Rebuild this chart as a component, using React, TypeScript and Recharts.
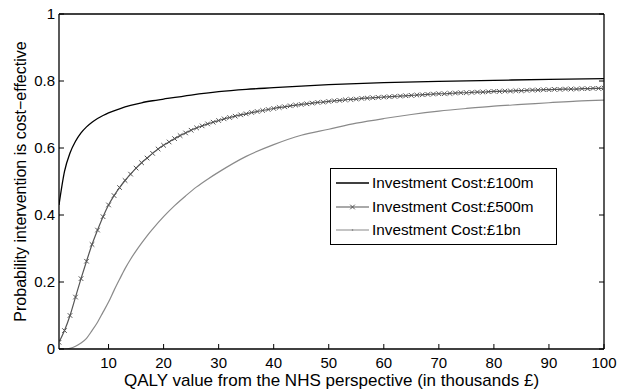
import { LineChart, Line, XAxis, YAxis, Label } from "recharts";

// QALY grid (thousands £) used by the £500m curve, which carries a marker at every point
const qalyGrid = Array.from({ length: 100 }, (_, i) => i + 1);

const cost500m = [
  0.02, 0.055, 0.1, 0.155, 0.21, 0.262, 0.312, 0.355, 0.395, 0.43,
  0.458, 0.482, 0.503, 0.522, 0.54, 0.556, 0.57, 0.584, 0.597, 0.608,
  0.618, 0.628, 0.637, 0.645, 0.653, 0.66, 0.666, 0.672, 0.677, 0.682,
  0.687, 0.691, 0.695, 0.699, 0.702, 0.706, 0.709, 0.712, 0.715, 0.718,
  0.721, 0.723, 0.726, 0.728, 0.73, 0.732, 0.734, 0.736, 0.737, 0.739,
  0.741, 0.742, 0.744, 0.745, 0.746, 0.748, 0.749, 0.75, 0.751, 0.752,
  0.753, 0.754, 0.755, 0.756, 0.757, 0.758, 0.759, 0.76, 0.761, 0.762,
  0.762, 0.763, 0.764, 0.765, 0.765, 0.766, 0.767, 0.767, 0.768, 0.769,
  0.769, 0.77, 0.77, 0.771, 0.771, 0.772, 0.773, 0.773, 0.774, 0.774,
  0.775, 0.775, 0.776, 0.776, 0.776, 0.777, 0.777, 0.778, 0.778, 0.779,
];

const qaly100m = [1, 2, 3, 4, 5, 6, 7, 8, 9, 10, 12, 14, 16, 18, 20, 25, 30, 35, 40, 45, 50, 60, 70, 80, 90, 100];
const cost100m = [
  0.43, 0.53, 0.585, 0.62, 0.645, 0.663, 0.677, 0.688, 0.697, 0.705,
  0.717, 0.727, 0.735, 0.741, 0.746, 0.758, 0.768, 0.775, 0.78, 0.785,
  0.789, 0.795, 0.799, 0.802, 0.805, 0.807,
];

const qaly1bn = [1, 2, 3, 4, 5, 6, 7, 8, 9, 10, 11, 12, 13, 14, 15, 16, 17, 18, 20, 22, 24, 26, 28, 30, 35, 40, 45, 50, 55, 60, 65, 70, 75, 80, 85, 90, 95, 100];
const cost1bn = [
  0, 0, 0.002, 0.008, 0.018, 0.032, 0.055, 0.08, 0.11, 0.14,
  0.175, 0.208, 0.24, 0.268, 0.293, 0.316, 0.338, 0.358, 0.395, 0.428,
  0.457, 0.484, 0.507, 0.528, 0.575, 0.61, 0.638, 0.656, 0.674, 0.688,
  0.7, 0.71, 0.718, 0.725, 0.73, 0.735, 0.74, 0.743,
];

const xTicks = [10, 20, 30, 40, 50, 60, 70, 80, 90, 100];
const yTicks = [0, 0.2, 0.4, 0.6, 0.8, 1];
const seriesNames = ["Investment Cost:£100m", "Investment Cost:£500m", "Investment Cost:£1bn"];

const data100m = qaly100m.map((q, i) => ({ q, p: cost100m[i] }));
const data500m = qalyGrid.map((q, i) => ({ q, p: cost500m[i] }));
const data1bn = qaly1bn.map((q, i) => ({ q, p: cost1bn[i] }));

const FONT = '"Liberation Sans", Arial, Helvetica, sans-serif';
const TICK_LEN = 5;

const Cross = (props: any) => {
  const { cx, cy } = props;
  if (cx == null || cy == null) return null;
  const s = 2.3;
  return (
    <path
      d={`M${cx - s},${cy - s}L${cx + s},${cy + s}M${cx + s},${cy - s}L${cx - s},${cy + s}`}
      stroke="#555"
      strokeWidth={1}
      fill="none"
    />
  );
};

const BottomTick = ({ x, y, payload }: any) => (
  <g>
    <line x1={x} y1={y} x2={x} y2={y - TICK_LEN} stroke="#000" />
    <text x={x} y={y + 19} textAnchor="middle" fontSize={15} fontFamily={FONT} fill="#000">
      {payload.value}
    </text>
  </g>
);

const TopTick = ({ x, y }: any) => <line x1={x} y1={y} x2={x} y2={y + TICK_LEN} stroke="#000" />;

const LeftTick = ({ x, y, payload }: any) => (
  <g>
    <line x1={x} y1={y} x2={x + TICK_LEN} y2={y} stroke="#000" />
    <text x={x - 4} y={y + 5} textAnchor="end" fontSize={15} fontFamily={FONT} fill="#000">
      {payload.value}
    </text>
  </g>
);

const RightTick = ({ x, y }: any) => <line x1={x} y1={y} x2={x - TICK_LEN} y2={y} stroke="#000" />;

const LegendSample = ({ idx }: { idx: number }) => (
  <svg width={34} height={10} style={{ marginRight: 2 }}>
    {idx === 0 && <line x1={0} y1={5} x2={33} y2={5} stroke="#000" strokeWidth={1.3} />}
    {idx === 1 && (
      <g>
        <line x1={0} y1={5} x2={33} y2={5} stroke="#555" strokeWidth={1.2} />
        <Cross cx={16.5} cy={5} />
      </g>
    )}
    {idx === 2 && (
      <g>
        <line x1={0} y1={5} x2={33} y2={5} stroke="#8a8a8a" strokeWidth={1.2} />
        <circle cx={16.5} cy={5} r={0.8} fill="#777" />
      </g>
    )}
  </svg>
);

const LegendBox = () => (
  <div
    style={{
      position: "absolute",
      left: 330,
      top: 168,
      border: "1.3px solid #000",
      background: "#fff",
      width: 227,
      height: 77,
      boxSizing: "border-box",
      padding: "2px 0 0 5px",
      fontFamily: FONT,
      fontSize: 15.3,
      color: "#000",
      whiteSpace: "nowrap",
    }}
  >
    {seriesNames.map((name, i) => (
      <div key={name} style={{ display: "flex", alignItems: "center", height: 23.7 }}>
        <LegendSample idx={i} />
        <span>{name}</span>
      </div>
    ))}
  </div>
);

const YLabel = ({ viewBox }: any) => {
  const cx = 20;
  const cy = viewBox.y + viewBox.height / 2;
  return (
    <text
      x={cx}
      y={cy}
      transform={`rotate(-90, ${cx}, ${cy})`}
      textAnchor="middle"
      dominantBaseline="central"
      fontSize={16}
      fontFamily={FONT}
      fill="#000"
    >
      Probability intervention is cost−effective
    </text>
  );
};

export default function App() {
  return (
    <div style={{ position: "absolute", left: 0, top: 0, width: 621, height: 392, background: "#fff" }}>
      <LineChart width={621} height={392} margin={{ top: 13, right: 16, bottom: 0, left: 0 }}>
        <XAxis
          dataKey="q"
          type="number"
          domain={[1, 100]}
          allowDataOverflow
          ticks={xTicks}
          interval={0}
          tickLine={false}
          tickSize={0}
          tickMargin={0}
          height={43}
          tick={<BottomTick />}
          axisLine={{ stroke: "#000", strokeWidth: 1.3 }}
        >
          <Label
            value="QALY value from the NHS perspective (in thousands £)"
            position="insideBottom"
            offset={6}
            style={{ fontSize: 17, fontFamily: FONT, fill: "#000" }}
          />
        </XAxis>
        <XAxis
          xAxisId="top"
          orientation="top"
          type="number"
          domain={[1, 100]}
          allowDataOverflow
          ticks={xTicks}
          interval={0}
          tickLine={false}
          tickSize={0}
          tickMargin={0}
          height={1}
          tick={<TopTick />}
          axisLine={{ stroke: "#000", strokeWidth: 1.3 }}
        />
        <YAxis
          type="number"
          domain={[0, 1]}
          allowDataOverflow
          ticks={yTicks}
          interval={0}
          tickLine={false}
          tickSize={0}
          tickMargin={0}
          width={59}
          tick={<LeftTick />}
          axisLine={{ stroke: "#000", strokeWidth: 1.3 }}
          label={<YLabel />}
        />
        <YAxis
          yAxisId="right"
          orientation="right"
          type="number"
          domain={[0, 1]}
          allowDataOverflow
          ticks={yTicks}
          interval={0}
          tickLine={false}
          tickSize={0}
          tickMargin={0}
          width={1}
          tick={<RightTick />}
          axisLine={{ stroke: "#000", strokeWidth: 1.3 }}
        />
        <Line
          data={data1bn}
          dataKey="p"
          type="monotone"
          stroke="#8a8a8a"
          strokeWidth={1.2}
          dot={false}
          isAnimationActive={false}
          name={seriesNames[2]}
        />
        <Line
          data={data500m}
          dataKey="p"
          type="monotone"
          stroke="#555"
          strokeWidth={1.2}
          dot={<Cross />}
          isAnimationActive={false}
          name={seriesNames[1]}
        />
        <Line
          data={data100m}
          dataKey="p"
          type="monotone"
          stroke="#000"
          strokeWidth={1.3}
          dot={false}
          isAnimationActive={false}
          name={seriesNames[0]}
        />
      </LineChart>
      <LegendBox />
    </div>
  );
}
